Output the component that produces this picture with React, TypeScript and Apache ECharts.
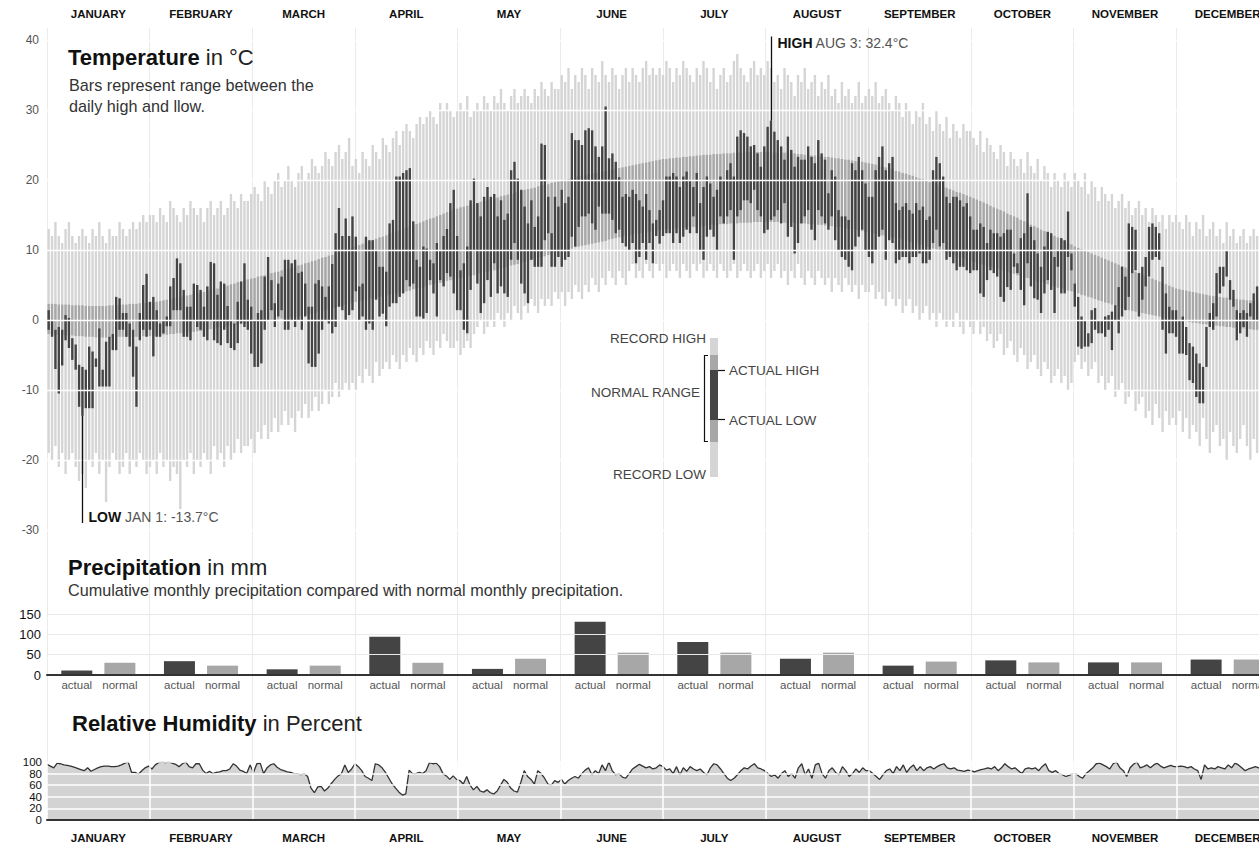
import React, { useEffect, useRef } from 'react';
import * as echarts from 'echarts';

const FONT = '"Liberation Sans", Arial, Helvetica, sans-serif';

const MONTHS = ['JANUARY', 'FEBRUARY', 'MARCH', 'APRIL', 'MAY', 'JUNE', 'JULY', 'AUGUST', 'SEPTEMBER', 'OCTOBER', 'NOVEMBER', 'DECEMBER'];

// ---- Temperature (°C), one value per day, grouped by month ----
const recordHigh = [
  [13,12,14,12,11,13,14,12,11,12,13,12,11,13,12,14,12,11,13,12,12,14,13,12,13,14,13,14,15,14,15],
  [15,14,16,15,14,17,16,15,14,16,15,17,16,15,16,14,16,17,15,16,17,15,16,18,17,16,18,17],
  [17,18,19,18,17,20,19,18,20,21,19,20,22,20,19,21,22,20,21,23,22,21,22,24,23,22,24,25,23,24,26],
  [22,23,21,24,23,22,25,24,23,26,25,24,26,27,25,27,28,27,26,28,29,28,29,30,29,28,31,30,31,30],
  [29,30,31,30,32,29,30,31,30,32,31,30,32,31,33,31,30,32,33,31,32,33,32,31,33,32,34,33,32,34,33],
  [33,35,34,36,33,35,34,36,35,33,36,35,34,37,35,34,36,35,33,35,36,34,36,35,34,36,37,35,36,35],
  [36,35,37,36,34,36,35,37,36,35,34,36,35,37,36,34,36,33,35,36,34,35,37,38,36,35,34,36,37,35,36],
  [35,37,36,34,35,33,36,35,34,32,35,34,36,33,34,35,32,34,33,35,32,33,31,34,32,33,31,32,34,31,32],
  [33,32,34,31,32,33,31,30,32,31,29,31,30,28,30,29,31,28,29,27,30,28,27,29,26,28,27,26,28,27],
  [27,26,25,27,24,26,25,24,23,25,24,22,24,23,22,23,21,24,22,21,23,20,22,21,19,21,20,19,21,20,19],
  [21,20,19,21,18,20,19,17,19,18,17,18,16,17,18,16,17,15,16,17,15,16,14,16,15,14,15,13,15,14],
  [15,14,13,15,14,12,14,13,15,12,13,14,12,13,11,14,12,13,11,12,13,11,12,13,12,11,13,12,11,12,13],
].flat();

const recordLow = [
  [-19,-20,-18,-21,-19,-22,-20,-19,-21,-23,-22,-24,-20,-21,-19,-22,-20,-26,-21,-19,-20,-22,-21,-19,-22,-20,-21,-19,-20,-22,-21],
  [-20,-22,-19,-21,-20,-23,-21,-22,-27,-20,-21,-19,-22,-20,-21,-19,-20,-22,-18,-20,-19,-21,-18,-20,-19,-17,-19,-18],
  [-18,-17,-19,-16,-17,-15,-17,-16,-14,-16,-15,-13,-15,-14,-16,-13,-14,-12,-14,-13,-11,-13,-12,-10,-12,-11,-9,-11,-10,-9,-10],
  [-9,-10,-8,-9,-7,-8,-9,-6,-8,-7,-6,-7,-5,-6,-7,-5,-6,-4,-5,-6,-4,-5,-3,-4,-5,-3,-4,-2,-3,-4],
  [-4,-3,-5,-4,-3,-4,-2,-1,0,-2,-1,0,-1,1,0,-1,1,0,2,1,0,2,1,3,2,1,3,2,3,2,4],
  [3,4,2,4,3,5,4,3,5,4,6,5,4,6,5,7,6,5,7,6,5,7,8,6,7,6,8,7,6,8],
  [7,8,6,7,8,7,6,8,7,6,8,7,8,6,7,8,7,6,8,7,6,7,8,6,7,8,7,6,7,8,6],
  [7,8,6,7,8,6,7,5,7,6,8,6,5,7,6,5,7,6,5,6,4,6,5,4,6,5,4,5,3,5,4],
  [4,5,3,4,3,2,4,3,2,3,1,2,3,1,2,0,1,2,0,1,-1,1,0,-1,0,-1,1,-1,-2,0],
  [-1,-2,0,-2,-1,-3,-2,-4,-3,-2,-5,-4,-3,-5,-6,-4,-5,-7,-6,-5,-7,-8,-6,-7,-9,-8,-7,-9,-8,-10,-9],
  [-6,-5,-7,-6,-8,-7,-6,-9,-8,-10,-9,-8,-11,-10,-9,-12,-11,-10,-13,-12,-11,-14,-13,-15,-12,-14,-16,-13,-15,-14],
  [-15,-13,-16,-14,-17,-15,-16,-18,-14,-17,-19,-16,-15,-18,-17,-20,-16,-18,-19,-17,-15,-18,-20,-17,-19,-18,-16,-19,-21,-18,-20],
].flat();

const normalHigh = [
  [2.3,2.3,2.3,2.2,2.2,2.2,2.2,2.1,2.1,2.1,2.1,2.0,2.0,2.0,2.0,2.0,2.0,2.0,2.1,2.1,2.1,2.2,2.2,2.2,2.3,2.3,2.3,2.4,2.4,2.4,2.5],
  [2.5,2.6,2.7,2.8,2.9,3.0,3.1,3.2,3.3,3.4,3.5,3.6,3.7,3.8,3.9,4.0,4.1,4.3,4.4,4.5,4.7,4.8,4.9,5.1,5.2,5.4,5.5,5.7],
  [5.8,5.9,6.0,6.2,6.3,6.4,6.5,6.7,6.8,6.9,7.1,7.2,7.3,7.5,7.6,7.8,7.9,8.1,8.2,8.4,8.5,8.7,8.9,9.0,9.2,9.3,9.5,9.7,9.8,10.0,10.2],
  [10.4,10.5,10.7,10.9,11.1,11.2,11.4,11.6,11.8,11.9,12.1,12.3,12.5,12.7,12.8,13.0,13.2,13.4,13.6,13.7,13.9,14.1,14.3,14.5,14.6,14.8,15.0,15.2,15.4,15.6],
  [15.8,15.9,16.1,16.2,16.3,16.5,16.6,16.7,16.9,17.0,17.1,17.3,17.4,17.5,17.7,17.8,17.9,18.0,18.2,18.3,18.4,18.6,18.7,18.8,18.9,19.1,19.2,19.3,19.4,19.6,19.7],
  [19.8,19.9,20.0,20.1,20.3,20.4,20.5,20.6,20.7,20.8,20.9,21.0,21.1,21.2,21.3,21.4,21.5,21.6,21.7,21.8,21.9,22.0,22.1,22.2,22.3,22.4,22.5,22.6,22.7,22.8],
  [22.9,23.0,23.0,23.1,23.1,23.2,23.2,23.3,23.3,23.4,23.4,23.5,23.5,23.6,23.6,23.6,23.7,23.7,23.7,23.8,23.8,23.8,23.9,23.9,23.9,23.9,24.0,24.0,24.0,24.0,24.0],
  [24.0,24.0,24.0,23.9,23.9,23.9,23.9,23.8,23.8,23.8,23.7,23.7,23.6,23.6,23.5,23.5,23.4,23.4,23.3,23.3,23.2,23.1,23.1,23.0,22.9,22.9,22.8,22.7,22.6,22.6,22.5],
  [22.4,22.3,22.2,22.0,21.9,21.8,21.6,21.5,21.3,21.2,21.0,20.9,20.7,20.6,20.4,20.2,20.1,19.9,19.7,19.6,19.4,19.2,19.0,18.9,18.7,18.5,18.3,18.2,18.0,17.8],
  [17.6,17.4,17.2,17.0,16.8,16.6,16.3,16.1,15.9,15.7,15.5,15.2,15.0,14.8,14.6,14.3,14.1,13.9,13.6,13.4,13.2,12.9,12.7,12.5,12.2,12.0,11.8,11.5,11.3,11.0,10.8],
  [10.5,10.3,10.1,9.9,9.7,9.5,9.3,9.1,8.9,8.7,8.5,8.3,8.1,7.9,7.7,7.5,7.3,7.1,6.9,6.7,6.5,6.3,6.1,5.9,5.7,5.5,5.3,5.1,4.9,4.7],
  [4.5,4.4,4.3,4.2,4.1,4.0,3.9,3.8,3.7,3.6,3.5,3.4,3.4,3.3,3.2,3.2,3.1,3.0,3.0,2.9,2.9,2.8,2.8,2.7,2.7,2.6,2.6,2.5,2.5,2.4,2.4],
].flat();

const normalLow = [
  [-2.0,-2.0,-2.1,-2.1,-2.1,-2.2,-2.2,-2.2,-2.3,-2.3,-2.3,-2.4,-2.4,-2.4,-2.5,-2.5,-2.5,-2.5,-2.5,-2.5,-2.4,-2.4,-2.4,-2.4,-2.4,-2.4,-2.4,-2.4,-2.3,-2.3,-2.3],
  [-2.3,-2.2,-2.2,-2.1,-2.1,-2.0,-2.0,-1.9,-1.9,-1.8,-1.8,-1.7,-1.7,-1.6,-1.6,-1.5,-1.4,-1.3,-1.2,-1.1,-1.0,-1.0,-0.9,-0.8,-0.7,-0.7,-0.6,-0.5],
  [-0.5,-0.4,-0.4,-0.3,-0.2,-0.2,-0.1,0.0,0.0,0.1,0.2,0.2,0.3,0.4,0.4,0.5,0.6,0.7,0.8,0.9,1.0,1.2,1.3,1.4,1.5,1.7,1.8,1.9,2.0,2.2,2.3],
  [2.5,2.6,2.7,2.8,2.9,3.0,3.1,3.2,3.3,3.4,3.5,3.6,3.7,3.8,3.9,4.0,4.1,4.2,4.4,4.5,4.6,4.7,4.8,5.0,5.1,5.2,5.3,5.4,5.6,5.7],
  [5.8,5.9,6.0,6.1,6.2,6.3,6.4,6.6,6.7,6.8,6.9,7.0,7.1,7.2,7.4,7.5,7.6,7.8,7.9,8.0,8.2,8.3,8.4,8.6,8.7,8.9,9.0,9.1,9.3,9.4,9.6],
  [9.8,9.9,10.0,10.1,10.2,10.4,10.5,10.6,10.7,10.8,10.9,11.0,11.1,11.2,11.3,11.5,11.6,11.7,11.8,11.9,12.0,12.1,12.2,12.3,12.4,12.4,12.5,12.6,12.7,12.7],
  [12.8,12.9,12.9,13.0,13.0,13.1,13.1,13.2,13.2,13.3,13.3,13.3,13.4,13.4,13.5,13.6,13.6,13.6,13.7,13.7,13.7,13.8,13.8,13.8,13.9,13.9,13.9,13.9,14.0,14.0,14.0],
  [14.0,14.0,14.0,14.0,14.0,13.9,13.9,13.9,13.9,13.9,13.8,13.8,13.8,13.7,13.7,13.7,13.6,13.6,13.5,13.5,13.4,13.3,13.3,13.2,13.1,13.0,13.0,12.9,12.8,12.7,12.6],
  [12.5,12.4,12.3,12.2,12.1,12.0,11.9,11.8,11.7,11.6,11.5,11.4,11.2,11.1,11.0,10.8,10.7,10.5,10.4,10.2,10.1,9.9,9.8,9.6,9.4,9.3,9.1,8.9,8.8,8.6],
  [8.5,8.3,8.2,8.0,7.9,7.7,7.6,7.4,7.3,7.2,7.0,6.9,6.7,6.6,6.4,6.3,6.1,6.0,5.8,5.7,5.5,5.4,5.2,5.1,4.9,4.8,4.6,4.5,4.3,4.2,4.1],
  [4.0,3.8,3.6,3.5,3.3,3.2,3.0,2.8,2.7,2.5,2.4,2.2,2.0,1.9,1.7,1.5,1.4,1.3,1.2,1.1,1.0,0.9,0.8,0.7,0.6,0.5,0.4,0.3,0.2,0.1],
  [0.0,-0.1,-0.2,-0.2,-0.3,-0.4,-0.4,-0.5,-0.6,-0.6,-0.7,-0.8,-0.8,-0.9,-0.9,-1.0,-1.0,-1.1,-1.1,-1.2,-1.2,-1.3,-1.3,-1.4,-1.4,-1.5,-1.5,-1.6,-1.6,-1.7,-1.8],
].flat();

const actualHigh = [
  [1.4,0,-1.4,-1,-1.4,0.7,0.3,-2.6,-3.5,-6.4,-6.7,-7.1,-3.8,-4.5,-5.5,-1.2,-7.1,-3.1,-2.4,-2,3.3,3.1,1,1,-0.5,-1.4,-3.8,1,5,6.6,2.6],
  [3.3,1.4,-0.5,0,0.5,4.8,6,8.8,8.1,4.3,1.9,1.9,5.2,5,4.3,1.9,4.8,8.3,8.1,3.6,5.5,5.2,2,0,-0.5,2.6,5.5,8.1],
  [2.9,1.9,0,1,1.4,6.2,9,5.7,2.4,5.2,6.2,8.6,8.6,8.1,8.6,6.7,6.9,5.2,1.9,1.9,5.2,5.7,4.8,3.3,4.8,8,12.4,16,12,14.5,12],
  [14.8,11.9,4.8,5.2,11.9,11.4,11.4,10,7.6,7.6,6.9,13.8,14.3,20.5,20.5,21,21.4,21.7,14.1,8.6,7.6,10.5,10.2,8.6,8.1,11,10,12,13,16.7],
  [18.6,12,7.1,8.1,10.5,17.1,20.2,16.7,14.8,17.6,19,17.6,18,14.8,17.1,14.3,15.2,21.4,22.6,20.2,18.6,16.2,13.8,17.1,13.3,14.8,25.2,25,17.6,12.4,17.6],
  [16.2,18.6,16.7,17.6,26.7,25.7,25.7,25,27.1,27.4,27.1,24.8,23.3,24.8,30.5,23.1,23.8,22.6,20.4,17.6,18,17.6,18.6,18,17.1,16.2,18,15.7,13.8,14.3],
  [15.7,17.1,20.5,20.5,21,20.5,19,20.5,21.2,20,19,21,16.7,19,20.5,19.5,17.6,18.6,20.5,20,21.4,22.4,20.5,26.2,27.1,26.7,26.2,24.8,25,23.8,21.9],
  [24.8,27.6,28.5,26.9,25.7,24.8,22.9,26.2,24.3,21.9,23.3,22.9,22.9,24.8,23.3,22.4,25.7,23.8,22.9,18.1,21.4,20.5,15.7,14.8,14.8,14.3,22.4,21.4,23.3,21.4,19.5],
  [17.6,17.6,21.4,23.3,24.8,21.4,22.4,23.3,16.7,15.7,16.2,16.7,15.7,15.2,16.7,15.7,16.2,14.3,14.8,21.4,23.3,22.4,20.5,17.6,16.7,17.6,17.6,17.1,16.2,16.7],
  [14.8,12.9,12.9,13.8,13.3,11,12.9,12.4,12.4,11.9,12.4,12.9,12.9,9.5,8.1,11.7,12.4,18.1,13.3,11.4,9.5,7.6,10.5,12.6,12.4,9,10,11.7,11.4,15.5,9.5],
  [5.2,3.3,0.5,0,-1.9,1.4,1.7,0,0,0.5,0.7,1.2,2.1,4.7,7.6,6.2,13.8,13.3,12.9,6.7,7.6,9,13.3,13.8,13.3,12.4,7.6,3.8,1.9,1.4],
  [1.4,0,0.5,-1,-3.3,-3.8,-4.8,-6.2,-6.7,-1,1,2.4,6.7,7.6,7.6,10,5.7,4.3,1.4,1,1.4,1,2.4,3.8,4.8,10.5,10,6,3,1,2],
].flat();

const actualLow = [
  [-1.4,-2.4,-7,-10.5,-6.5,-2.9,-4,-5.7,-7.1,-12.4,-13.7,-12.6,-12.6,-12.6,-6.7,-9.5,-9.5,-9.5,-9.5,-4.3,-4.3,-1.4,-1.4,-2.4,-3.8,-8.1,-12.4,-2.9,-1.4,-2.4,-1.4],
  [-5.2,-2.4,-2.4,-1.9,-0.9,-0.9,1.4,1.4,1.4,-2.4,-2.4,-2.9,0,-1,-1.4,-2.4,-2.9,0,-2.9,-3.3,-3.6,-1.4,-3.3,-4,-4.3,-3.3,-0.5,-1],
  [-1.4,-4.8,-6.7,-6.7,-6.2,-1.4,0,1.4,-1,0.5,1.4,-1.4,-1.4,0,-1,0,-1.4,0.5,-6.2,-6.7,-6.7,-4.8,-1.4,0,-0.5,-1.9,-1,1.9,1.4,0,0.7],
  [1.4,4.1,0,0.5,-1.4,-0.5,-1.4,2.9,0.5,0.9,-0.9,1.9,2.4,2.4,3.3,3.8,5.7,4.8,5.2,0.5,0.5,0.2,1,5.7,3.8,0.5,5.7,4.8,6.7,6.2],
  [3.8,1.4,1.4,-1.4,-1.9,4.3,9.9,5.2,1,2.4,5.7,3.3,8.1,3.8,4.8,3.8,3.3,8.6,11,8.6,5.2,3.8,2.4,8.6,7.6,7.6,7.6,11.4,12.4,7.6,7.6],
  [9,7.6,8.6,9,11.9,10.5,13.3,14.8,14.8,15.2,13.8,12.9,16.2,15.2,15.2,15.2,14.3,12.4,12.9,11,10.5,10,11,8.1,9,11,8.6,11,8.1,12],
  [10.9,12,12.4,12.4,11,12.4,11,11.9,12.9,12.4,14.8,12.4,10,8.6,11.9,12.9,11.9,10,14.8,13.8,14.8,15.7,8.6,14.8,15.7,17.1,17.1,16.7,18.6,15.7,14.8],
  [12.4,12.9,14.3,14.8,15.7,13.8,16.7,11.9,13.3,9.5,11,13.8,14.8,15.7,12.9,11.4,15.7,14.8,13.8,12.9,14.8,11.4,10,9,8.6,7.6,7.1,10.5,11.9,12.9,10],
  [9,8.1,10,11.9,12.9,8.6,11.4,11,8.1,8.6,9,9,8.1,9,9,9.5,8.1,8.1,8.6,11,12.9,10.5,11,8.6,9,8.1,7.1,7.6,7.6,7.1],
  [6.7,7.1,7.1,3.8,3.3,5.7,7.1,6.7,6.2,3.3,2.6,4.7,4.3,7.6,6.7,4.3,2.1,8.1,4.8,3.1,2.9,1,3.8,5.7,4.3,1,7.6,3.8,3.8,9,7.1],
  [1.9,-3.8,-4.1,-3.8,-3.8,-3.3,-1.4,-1.9,-1.9,-2.4,-1.4,-4.3,0,-1.9,0.5,1.4,3.3,6.7,7.1,0.5,2.9,4.8,6.2,8.6,9,8.6,-1.4,-4.8,-1.9,-1.9],
  [-2.4,-4.8,-4.8,-5,-8.6,-9,-11,-11.9,-11.9,-6.7,-1,-1.4,0.5,3.8,4.8,6.2,2.9,1.9,-2.9,-1.9,-1,-2.4,0.5,0,0,3.8,4,1,-2,-3,-1],
].flat();

// ---- Precipitation (mm), monthly ----
const precipActual = [11, 34, 14, 94, 15, 131, 81, 40, 23, 36, 31, 38];
const precipNormal = [30, 23, 23, 30, 40, 55, 55, 55, 33, 31, 31, 38];

// ---- Relative humidity (%), daily ----
const humidity = [
  [96,93,90,98,97,95,94,93,91,89,87,85,90,84,87,90,92,93,93,92,92,93,95,98,100,82,82,79,85,90,93],
  [88,95,99,100,99,100,98,96,92,97,100,92,90,97,97,86,80,84,80,82,83,85,85,88,97,93,86,84],
  [80,95,82,97,98,80,90,95,97,91,87,85,83,82,80,80,78,80,75,55,47,57,58,50,55,63,70,76,80,95,82],
  [88,97,92,85,75,72,68,97,95,90,82,72,62,55,48,43,45,86,80,80,82,80,85,99,97,98,92,80,76,70],
  [76,70,68,62,75,60,52,58,50,48,52,47,45,50,60,70,65,55,50,48,65,85,75,70,62,85,80,72,62,60,68],
  [65,70,62,68,72,75,72,80,86,90,78,85,80,95,85,100,85,78,80,74,72,80,88,92,96,93,90,92,88,90],
  [95,92,86,88,80,92,78,90,84,92,88,85,88,82,78,90,97,95,88,80,72,68,72,78,85,90,88,93,97,90,88],
  [85,80,75,78,72,80,85,75,80,72,90,97,78,88,72,95,98,80,72,85,90,82,78,92,85,75,80,88,82,90,85],
  [85,80,75,70,78,85,88,80,92,85,95,82,90,95,85,92,85,90,92,88,92,95,97,90,88,90,86,85,84,86],
  [85,83,85,87,88,90,88,92,85,90,97,92,88,90,85,80,88,90,88,90,85,92,97,85,82,85,80,78,75,77,80],
  [80,75,72,80,85,90,97,98,95,92,88,97,100,90,85,75,90,96,100,90,92,95,90,95,98,93,90,92,94,92],
  [92,93,92,90,92,88,85,70,95,88,90,88,92,90,88,95,90,98,95,90,85,88,90,92,90,88,85,90,92,90,88],
].flat();
const humidityTicks = [0, 20, 40, 60, 80, 100];

// ---- Annotations ----
const annotationDays = [10, 214];
const annotationKinds = ['low', 'high'];
const annotationEnds = [-29, 40.5];
const annotationLabels = ['LOW', 'HIGH'];
const annotationTexts = ['JAN 1: -13.7°C', 'AUG 3: 32.4°C'];

const C_RECORD = '#d5d5d5';
const C_NORMAL = '#a7a7a7';
const C_ACTUAL = '#444444';

const CHART_W = 1300;

function buildOption(): any {
  const days = actualHigh.map((_, i) => String(i));
  const tempData = days.map((_, i) => [i, recordLow[i], recordHigh[i], normalLow[i], normalHigh[i], actualLow[i], actualHigh[i]]);
  const annData = annotationDays.map((d, k) => [d, annotationKinds[k] === 'low' ? actualLow[d] : actualHigh[d], annotationEnds[k]]);

  const left = 47;
  const right = CHART_W - 47 - 1232;

  const monthLabel = { fontWeight: 'bold', fontSize: 11.5, color: '#111', fontFamily: FONT };

  const text = (x: number, y: number, t: string, style: any) => ({
    type: 'text', x, y, silent: true, z: 100,
    style: { text: t, fontFamily: FONT, verticalAlign: 'middle', textVerticalAlign: 'middle', ...style },
  });

  const titleRich = (size: number) => ({
    b: { fontWeight: 'bold', fontSize: size, fill: '#111', fontFamily: FONT },
    r: { fontSize: size, fill: '#222', fontFamily: FONT },
  });

  const legendText = { fontSize: 13.5, fill: '#444' };

  return {
    animation: false,
    textStyle: { fontFamily: FONT },
    grid: [
      { left, right, top: 28, height: 792 },
      { left, right, top: 40, height: 490 },
      { left, right, top: 614, height: 61 },
      { left, right, top: 762, height: 58 },
    ],
    xAxis: [
      {
        gridIndex: 0, type: 'category', data: MONTHS, position: 'top', z: 0,
        axisLine: { show: false }, axisTick: { show: false },
        axisLabel: { ...monthLabel, margin: 8, interval: 0 },
        splitLine: { show: true, interval: 0, lineStyle: { color: '#ebebeb', width: 1 } },
      },
      {
        gridIndex: 0, type: 'category', data: MONTHS, position: 'bottom',
        axisLine: { show: false }, axisTick: { show: false },
        axisLabel: { ...monthLabel, margin: 12, interval: 0 },
        splitLine: { show: false },
      },
      { gridIndex: 1, type: 'category', data: days, show: false },
      {
        gridIndex: 2, type: 'category', data: MONTHS, z: 5, position: 'bottom',
        axisLabel: { show: false }, axisTick: { show: false },
        axisLine: { show: true, lineStyle: { color: '#333', width: 2 } },
      },
      { gridIndex: 3, type: 'category', data: days, boundaryGap: false, show: false, position: 'bottom' },
      {
        gridIndex: 3, type: 'category', data: MONTHS, z: 5, position: 'bottom',
        axisLabel: { show: false }, axisTick: { show: false },
        axisLine: { show: true, lineStyle: { color: '#333', width: 2 } },
        splitLine: { show: true, interval: 0, lineStyle: { color: '#ffffff', width: 1.5 } },
      },
    ],
    yAxis: [
      { gridIndex: 0, type: 'value', min: 0, max: 1, show: false },
      {
        gridIndex: 1, type: 'value', min: -30, max: 40, interval: 10, z: 5,
        axisLine: { show: false }, axisTick: { show: false },
        axisLabel: { color: '#555', fontSize: 12, margin: 8, fontFamily: FONT },
        splitLine: { show: true, lineStyle: { color: '#ffffff', width: 1.3 } },
      },
      {
        gridIndex: 2, type: 'value', min: 0, max: 150, interval: 50, z: 5,
        axisLine: { show: false }, axisTick: { show: false },
        axisLabel: { color: '#111', fontSize: 13, margin: 6, fontFamily: FONT },
        splitLine: { show: true, lineStyle: { color: '#e9e9e9', width: 1 } },
      },
      {
        gridIndex: 3, type: 'value', min: 0, max: 100, interval: 20, z: 5,
        axisLine: { show: false }, axisTick: { show: false },
        axisLabel: { show: false },
        splitLine: { show: true, lineStyle: { color: '#ffffff', width: 1.5 } },
      },
    ],
    series: [
      {
        type: 'custom', name: 'temperature', xAxisIndex: 2, yAxisIndex: 1, silent: true,
        data: tempData,
        renderItem: (_params: any, api: any) => {
          const i = api.value(0);
          const band = api.size([1, 0])[0];
          const w = Math.max(1, band - 1);
          const mk = (lo: number, hi: number, fill: string) => {
            const pHi = api.coord([i, hi]);
            const pLo = api.coord([i, lo]);
            return { type: 'rect', shape: { x: pHi[0] - w / 2, y: pHi[1], width: w, height: pLo[1] - pHi[1] }, style: { fill } };
          };
          return {
            type: 'group',
            children: [
              mk(api.value(1), api.value(2), C_RECORD),
              mk(api.value(3), api.value(4), C_NORMAL),
              mk(api.value(5), api.value(6), C_ACTUAL),
            ],
          };
        },
      },
      {
        type: 'custom', name: 'annotations', xAxisIndex: 2, yAxisIndex: 1, silent: true, z: 10,
        data: annData,
        renderItem: (params: any, api: any) => {
          const k = params.dataIndex;
          const a = api.coord([api.value(0), api.value(1)]);
          const b = api.coord([api.value(0), api.value(2)]);
          const x = Math.round(a[0]) + 0.5;
          const dir = a[1] > b[1] ? 1 : -1;
          return {
            type: 'group',
            children: [
              { type: 'line', shape: { x1: x, y1: a[1], x2: x, y2: b[1] }, style: { stroke: '#111', lineWidth: 1.3 } },
              {
                type: 'text',
                style: {
                  x: x + 6, y: b[1] + dir * 6.5,
                  text: `{b|${annotationLabels[k]}}{r| ${annotationTexts[k]}}`,
                  verticalAlign: 'middle', textVerticalAlign: 'middle', align: 'left',
                  rich: {
                    b: { fontWeight: 'bold', fontSize: 14, fill: '#111', fontFamily: FONT },
                    r: { fontSize: 14, fill: '#555', fontFamily: FONT },
                  },
                },
              },
            ],
          };
        },
      },
      {
        type: 'bar', name: 'actual', xAxisIndex: 3, yAxisIndex: 2, data: precipActual, silent: true,
        barWidth: 31, barGap: '39%', itemStyle: { color: C_ACTUAL },
        label: { show: true, position: 'bottom', distance: 4, formatter: 'actual', color: '#555', fontSize: 11.5, fontFamily: FONT },
      },
      {
        type: 'bar', name: 'normal', xAxisIndex: 3, yAxisIndex: 2, data: precipNormal, silent: true,
        barWidth: 31, barGap: '39%', itemStyle: { color: C_NORMAL },
        label: { show: true, position: 'bottom', distance: 4, formatter: 'normal', color: '#555', fontSize: 11.5, fontFamily: FONT },
      },
      {
        type: 'line', name: 'humidity', xAxisIndex: 4, yAxisIndex: 3, data: humidity, silent: true,
        symbol: 'none', lineStyle: { color: '#333', width: 1.3 },
        areaStyle: { color: '#d3d3d3', opacity: 1 },
      },
      {
        // humidity axis tick labels, placed through the humidity scale
        type: 'custom', name: 'humidityTicks', xAxisIndex: 4, yAxisIndex: 3, silent: true, z: 10, clip: false,
        data: humidityTicks.map((v) => [0, v]),
        renderItem: (_params: any, api: any) => {
          const p = api.coord([0, api.value(1)]);
          return {
            type: 'text',
            style: {
              x: p[0] - 5, y: p[1], text: String(api.value(1)),
              align: 'right', textAlign: 'right', verticalAlign: 'middle', textVerticalAlign: 'middle',
              fontSize: 11.5, fontFamily: FONT, fill: '#111',
            },
          };
        },
      },
    ],
    graphic: [
      text(68, 57, '{b|Temperature}{r| in °C}', { rich: titleRich(22) }),
      text(69, 85, 'Bars represent range between the', { fontSize: 16.2, fill: '#333' }),
      text(69, 106, 'daily high and llow.', { fontSize: 16.2, fill: '#333' }),
      text(68, 567, '{b|Precipitation}{r| in mm}', { rich: titleRich(22) }),
      text(68, 590, 'Cumulative monthly precipitation compared with normal monthly precipitation.', { fontSize: 16.2, fill: '#333' }),
      text(72, 723, '{b|Relative Humidity}{r| in Percent}', { rich: titleRich(22) }),
      // legend key
      { type: 'rect', silent: true, z: 100, shape: { x: 710, y: 338, width: 8, height: 139 }, style: { fill: C_RECORD } },
      { type: 'rect', silent: true, z: 100, shape: { x: 710, y: 355, width: 8, height: 87 }, style: { fill: C_NORMAL } },
      { type: 'rect', silent: true, z: 100, shape: { x: 710, y: 370, width: 8, height: 50 }, style: { fill: C_ACTUAL } },
      { type: 'polyline', silent: true, z: 100, shape: { points: [[708, 355.5], [704.5, 355.5], [704.5, 441.5], [708, 441.5]] }, style: { stroke: '#111', lineWidth: 1.2, fill: 'none' } },
      { type: 'line', silent: true, z: 100, shape: { x1: 718, y1: 370.5, x2: 725, y2: 370.5 }, style: { stroke: '#111', lineWidth: 1.2 } },
      { type: 'line', silent: true, z: 100, shape: { x1: 718, y1: 419.5, x2: 725, y2: 419.5 }, style: { stroke: '#111', lineWidth: 1.2 } },
      text(706, 338, 'RECORD HIGH', { ...legendText, align: 'right', textAlign: 'right' }),
      text(700, 392, 'NORMAL RANGE', { ...legendText, align: 'right', textAlign: 'right' }),
      text(729, 370, 'ACTUAL HIGH', { ...legendText, align: 'left', textAlign: 'left' }),
      text(729, 420, 'ACTUAL LOW', { ...legendText, align: 'left', textAlign: 'left' }),
      text(706, 474, 'RECORD LOW', { ...legendText, align: 'right', textAlign: 'right' }),
    ],
  };
}

export default function App() {
  const ref = useRef<HTMLDivElement>(null);
  useEffect(() => {
    if (!ref.current) return;
    const chart = echarts.init(ref.current, null, { renderer: 'svg' });
    chart.setOption(buildOption());
    return () => chart.dispose();
  }, []);
  return (
    <div style={{ position: 'absolute', left: 0, top: 0, width: 1259, height: 845, overflow: 'hidden', background: '#fff' }}>
      <div ref={ref} style={{ width: CHART_W, height: 845 }} />
    </div>
  );
}
